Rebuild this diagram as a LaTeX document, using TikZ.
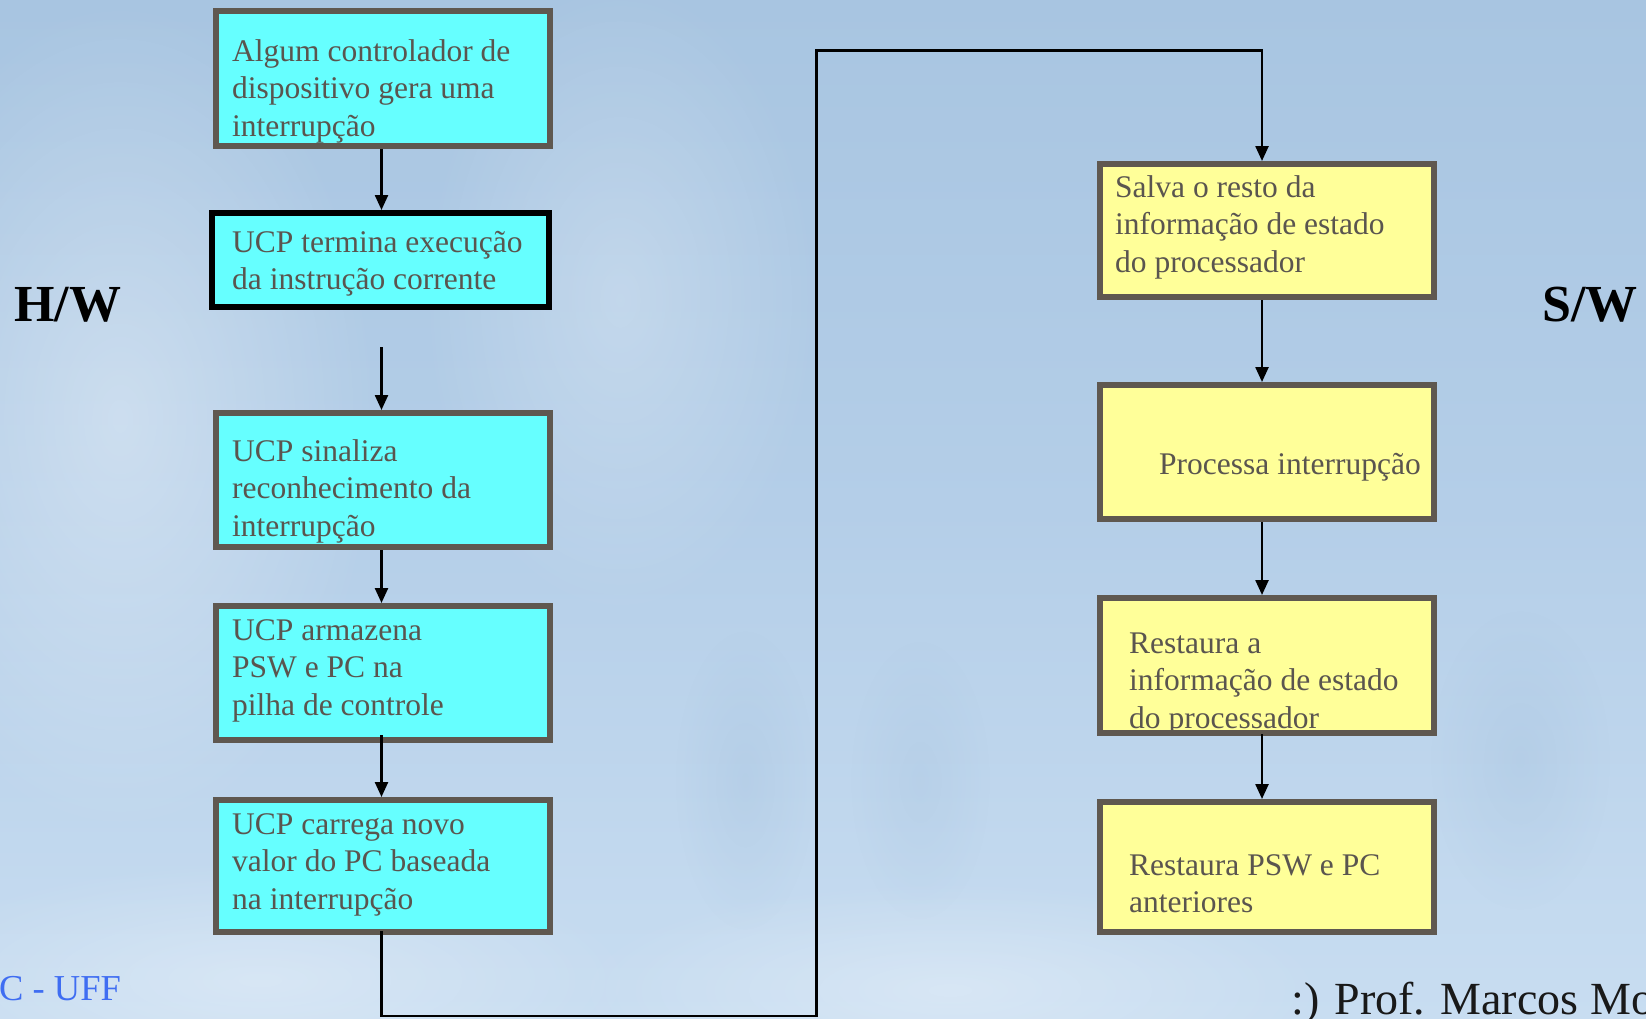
\documentclass[tikz,border=0pt]{standalone}
\usepackage{fontspec}
\setmainfont{Liberation Serif}
\usetikzlibrary{arrows.meta,fadings}

\definecolor{bgtop}{HTML}{A8C5E1}
\definecolor{bgmid}{HTML}{B4CEE8}
\definecolor{bgbot}{HTML}{C8DDF1}
\definecolor{keyshade}{HTML}{8FB0D0}
\definecolor{hwfill}{HTML}{66FFFF}
\definecolor{swfill}{HTML}{FFFF99}
\definecolor{edge}{HTML}{5F5850}
\definecolor{ink}{HTML}{5A554F}
\definecolor{ufblue}{HTML}{3F6DF2}

% soft blob: opaque centre, transparent rim
\tikzfading[name=softblob, inner color=transparent!0, outer color=transparent!100]

% box from its border centre-line corners (x1,y1)-(x2,y2)
\newcommand\mkbox[6]{%
  \node[#6, minimum width={#4-#2}, minimum height={#5-#3}] (#1)
    at ({(#2+#4)/2},{(#3+#5)/2}) {};}
% text lines of a box, first baseline at (x,y)
\newcommand\boxtext[4]{%
  \foreach \ln [count=\k] in {#4}{%
    \node[txt] (#1-\k) at (#2,{#3+37.6*(\k-1)}) {\ln};}}

\begin{document}
\begin{tikzpicture}[x=1pt,y=-1pt,
  box/.style={draw=edge, line width=6pt, inner sep=0pt, anchor=center},
  hw/.style={box, fill=hwfill},
  hwstrong/.style={hw, draw=black},
  sw/.style={box, fill=swfill},
  txt/.style={text=ink, font=\fontsize{31.5}{37.6}\selectfont, inner sep=0pt, anchor=base west},
  side/.style={text=black, font=\fontsize{52}{60}\selectfont\bfseries, inner sep=0pt, anchor=base west},
  arr/.style={draw=black, line width=2.4pt, -{Triangle[length=15pt,width=13pt]}},
  blob/.style={path fading=softblob},
]
\useasboundingbox (0,0) rectangle (1646,1018);
\clip (0,0) rectangle (1646,1018);

% backdrop
\shade[top color=bgtop, bottom color=bgbot, middle color=bgmid] (0,0) rectangle (1646,1018);
\fill[white, opacity=0.35, blob] (120,420) ellipse (260 and 420);
\fill[white, opacity=0.25, blob] (620,300) ellipse (200 and 320);
\fill[white, opacity=0.30, blob] (260,980) ellipse (380 and 120);
\fill[white, opacity=0.30, blob] (950,990) ellipse (380 and 110);
\fill[keyshade, opacity=0.18, blob] (745,780) ellipse (70 and 150);
\fill[keyshade, opacity=0.15, blob] (920,780) ellipse (70 and 140);
\fill[keyshade, opacity=0.18, blob] (1520,760) ellipse (90 and 150);

% column axes of the connectors
\coordinate (colL) at (381.5,0);
\coordinate (colR) at (1262,0);
\coordinate (a2s) at (381.5,347);
\coordinate (loopB) at (381.5,1016);
\coordinate (loopBR) at (816.5,1016);
\coordinate (loopTL) at (816.5,50.5);
\coordinate (loopTR) at (1262,50.5);

% hardware steps
\mkbox{b1}{216}{11}{550}{146}{hw}
\mkbox{b2}{212}{213}{549}{307}{hwstrong}
\mkbox{b3}{216}{413}{550}{547}{hw}
\mkbox{b4}{216}{606}{550}{740}{hw}
\mkbox{b5}{216}{800}{550}{932}{hw}
\boxtext{t1}{232}{61}{Algum controlador de,dispositivo gera uma,interrupção}
\boxtext{t2}{232}{252}{UCP termina execução,da instrução corrente}
\boxtext{t3}{232}{461}{UCP sinaliza,reconhecimento da,interrupção}
\boxtext{t4}{232}{640}{UCP armazena,PSW e PC na,pilha de controle}
\boxtext{t5}{232}{834}{UCP carrega novo,valor do PC baseada,na interrupção}

% software steps
\mkbox{b6}{1100}{164}{1434}{297}{sw}
\mkbox{b7}{1100}{385}{1434}{519}{sw}
\mkbox{b8}{1100}{598}{1434}{733}{sw}
\mkbox{b9}{1100}{802}{1434}{932}{sw}
\boxtext{t6}{1115}{197}{Salva o resto da,informação de estado,do processador}
\boxtext{t7}{1159}{474}{Processa interrupção}
\boxtext{t8}{1129}{653}{Restaura a,informação de estado,do processador}
\boxtext{t9}{1129}{875}{Restaura PSW e PC,anteriores}
% the last line of b8 runs under its lower border
\draw[draw=edge, line width=6pt] (b8.south west) ++(3,-3) -- ++(334,0);

% side labels and footer
\node[side] (hwl) at (14,321) {H/W};
\node[side] (swl) at (1542,321) {S/W};
\node[text=ufblue, font=\fontsize{36.5}{42}\selectfont, inner sep=0pt, anchor=base west] (inst) at (-1,1000) {C - UFF};
\node[text=black!90, font=\fontsize{46}{54}\selectfont, inner sep=0pt, anchor=base west] (prof) at (1291,1014) {:) Prof. Marcos Mo};

% connectors
\draw[arr] (b1.south -| colL) -- (b2.north -| colL);
\draw[arr] (a2s) -- (b3.north -| colL);
\draw[arr] (b3.south -| colL) -- (b4.north -| colL);
\draw[arr] ([yshift=8pt]b4.south -| colL) -- (b5.north -| colL);
\draw[arr] ([yshift=4pt]b5.south -| colL) -- (loopB) -- (loopBR) -- (loopTL) -- (loopTR) -- (b6.north -| colR);
\draw[arr] (b6.south -| colR) -- (b7.north -| colR);
\draw[arr] (b7.south -| colR) -- (b8.north -| colR);
\draw[arr] ([yshift=2pt]b8.south -| colR) -- (b9.north -| colR);
\end{tikzpicture}
\end{document}
